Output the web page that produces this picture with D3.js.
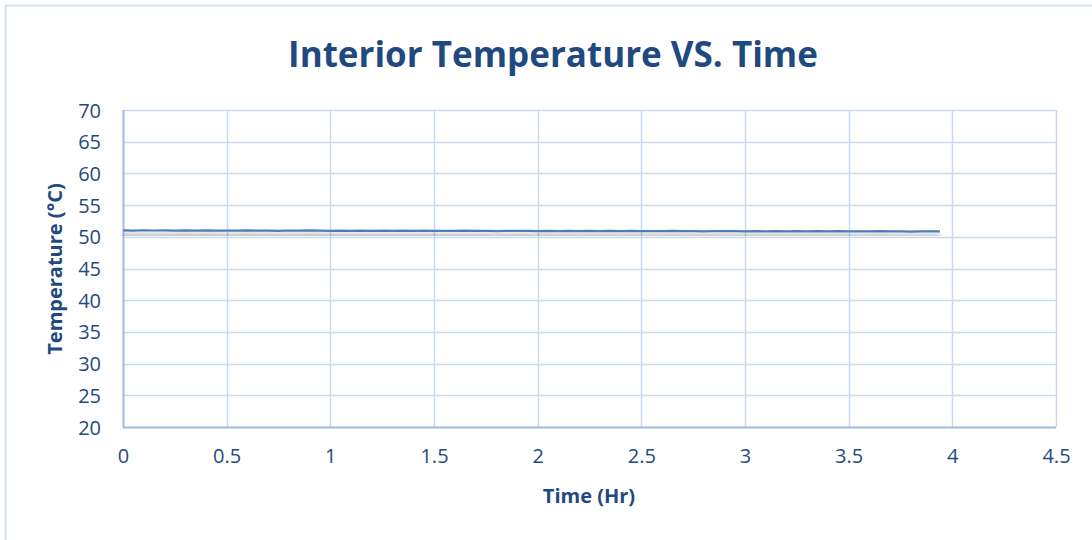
<!DOCTYPE html>
<html>
<head>
<meta charset="utf-8">
<script src="https://cdn.jsdelivr.net/npm/d3@7"></script>
<style>
  html, body { margin: 0; padding: 0; background: #fff; }
  svg { display: block; }
</style>
</head>
<body>
<svg id="chart" width="1092" height="540"></svg>
<script>
// Logged interior temperature over time
const timeHr = [
  0.00, 0.05, 0.10, 0.15, 0.20, 0.25, 0.30, 0.35, 0.40, 0.45,
  0.50, 0.55, 0.60, 0.65, 0.70, 0.75, 0.80, 0.85, 0.90, 0.95,
  1.00, 1.05, 1.10, 1.15, 1.20, 1.25, 1.30, 1.35, 1.40, 1.45,
  1.50, 1.55, 1.60, 1.65, 1.70, 1.75, 1.80, 1.85, 1.90, 1.95,
  2.00, 2.05, 2.10, 2.15, 2.20, 2.25, 2.30, 2.35, 2.40, 2.45,
  2.50, 2.55, 2.60, 2.65, 2.70, 2.75, 2.80, 2.85, 2.90, 2.95,
  3.00, 3.05, 3.10, 3.15, 3.20, 3.25, 3.30, 3.35, 3.40, 3.45,
  3.50, 3.55, 3.60, 3.65, 3.70, 3.75, 3.80, 3.85, 3.90, 3.94
];
const tempC = [
  51.02, 50.98, 51.03, 50.99, 51.01, 50.97, 51.00, 50.98, 51.01, 50.96,
  50.99, 50.97, 51.00, 50.96, 50.98, 50.95, 50.99, 50.97, 51.00, 50.96,
  50.95, 50.98, 50.94, 50.97, 50.95, 50.98, 50.93, 50.96, 50.94, 50.97,
  50.93, 50.95, 50.92, 50.96, 50.93, 50.95, 50.91, 50.94, 50.92, 50.95,
  50.90, 50.93, 50.91, 50.94, 50.90, 50.92, 50.89, 50.93, 50.90, 50.92,
  50.88, 50.91, 50.89, 50.92, 50.88, 50.90, 50.87, 50.91, 50.88, 50.90,
  50.86, 50.89, 50.87, 50.90, 50.86, 50.88, 50.85, 50.89, 50.86, 50.88,
  50.84, 50.87, 50.85, 50.88, 50.84, 50.86, 50.83, 50.86, 50.84, 50.85
];
const xTicks = [0, 0.5, 1, 1.5, 2, 2.5, 3, 3.5, 4, 4.5];
const yTicks = [20, 25, 30, 35, 40, 45, 50, 55, 60, 65, 70];

const titleText = "Interior Temperature VS. Time";
const xTitle = "Time (Hr)";
const yTitle = "Temperature (°C)";

const svg = d3.select("#chart");
const font = "'Open Sans', 'Noto Sans', sans-serif";
const textColor = "#1f4a7f";

const plot = { left: 123, right: 1056, top: 110, bottom: 427 };

const x = d3.scaleLinear().domain([0, 4.5]).range([plot.left, plot.right]);
const y = d3.scaleLinear().domain([20, 70]).range([plot.bottom, plot.top]);

// outer chart frame
svg.append("rect")
  .attr("x", 5.5).attr("y", 5.5)
  .attr("width", 1100).attr("height", 560)
  .attr("fill", "none")
  .attr("stroke", "#d6e2f4")
  .attr("stroke-width", 2);

// drop shadow for the series line
const defs = svg.append("defs");
const f = defs.append("filter").attr("id", "lineShadow")
  .attr("x", "-5%").attr("y", "-300%").attr("width", "110%").attr("height", "700%");
f.append("feGaussianBlur").attr("in", "SourceAlpha").attr("stdDeviation", 2).attr("result", "b");
f.append("feOffset").attr("in", "b").attr("dx", 0).attr("dy", 5).attr("result", "o");
f.append("feComponentTransfer").attr("in", "o").attr("result", "s")
  .append("feFuncA").attr("type", "linear").attr("slope", 0.5);
const m = f.append("feMerge");
m.append("feMergeNode").attr("in", "s");
m.append("feMergeNode").attr("in", "SourceGraphic");

// gridlines
const gridColor = "#c9d9f0";
svg.append("g").selectAll("line.h").data(yTicks.filter(d => d !== 20)).join("line")
  .attr("x1", plot.left).attr("x2", plot.right)
  .attr("y1", d => Math.round(y(d)) + 0.5).attr("y2", d => Math.round(y(d)) + 0.5)
  .attr("stroke", gridColor).attr("stroke-width", 1.5);
svg.append("g").selectAll("line.v").data(xTicks.filter(d => d !== 0)).join("line")
  .attr("y1", plot.top).attr("y2", plot.bottom)
  .attr("x1", d => Math.round(x(d)) + 0.5).attr("x2", d => Math.round(x(d)) + 0.5)
  .attr("stroke", gridColor).attr("stroke-width", 1.5);

// axis lines
const axisColor = "#9fbae3";
svg.append("line")
  .attr("x1", plot.left).attr("x2", plot.right)
  .attr("y1", plot.bottom + 0.5).attr("y2", plot.bottom + 0.5)
  .attr("stroke", axisColor).attr("stroke-width", 2);
svg.append("line")
  .attr("x1", plot.left + 0.5).attr("x2", plot.left + 0.5)
  .attr("y1", plot.top).attr("y2", plot.bottom)
  .attr("stroke", axisColor).attr("stroke-width", 2);

// tick labels via d3 axes (no tick marks, no domain)
const xAxis = svg.append("g")
  .attr("transform", `translate(0,${plot.bottom})`)
  .call(d3.axisBottom(x).tickValues(xTicks).tickSize(0).tickPadding(22)
    .tickFormat(d => String(d)));
const yAxis = svg.append("g")
  .attr("transform", `translate(${plot.left},0)`)
  .call(d3.axisLeft(y).tickValues(yTicks).tickSize(0).tickPadding(22)
    .tickFormat(d => String(d)));
[xAxis, yAxis].forEach(g => {
  g.select(".domain").remove();
  g.selectAll("text")
    .attr("fill", textColor)
    .style("font-family", font)
    .style("font-size", "20px");
});
yAxis.selectAll("text").attr("dy", "0.35em");

// series line
const line = d3.line()
  .x((d, i) => x(timeHr[i]))
  .y(d => y(d));
svg.append("path")
  .datum(tempC)
  .attr("d", line)
  .attr("fill", "none")
  .attr("stroke", "#4a7ebb")
  .attr("stroke-width", 2.2)
  .attr("stroke-linejoin", "round")
  .attr("filter", "url(#lineShadow)");

// titles
svg.append("text")
  .attr("x", 553).attr("y", 67)
  .attr("text-anchor", "middle")
  .attr("fill", textColor)
  .style("font-family", font)
  .style("font-weight", "bold")
  .style("font-size", "35px")
  .text(titleText);

svg.append("text")
  .attr("x", 589).attr("y", 503)
  .attr("text-anchor", "middle")
  .attr("fill", textColor)
  .style("font-family", font)
  .style("font-weight", "bold")
  .style("font-size", "20px")
  .text(xTitle);

svg.append("text")
  .attr("transform", "translate(62,269) rotate(-90)")
  .attr("text-anchor", "middle")
  .attr("fill", textColor)
  .style("font-family", font)
  .style("font-weight", "bold")
  .style("font-size", "20px")
  .text(yTitle);
</script>
</body>
</html>
